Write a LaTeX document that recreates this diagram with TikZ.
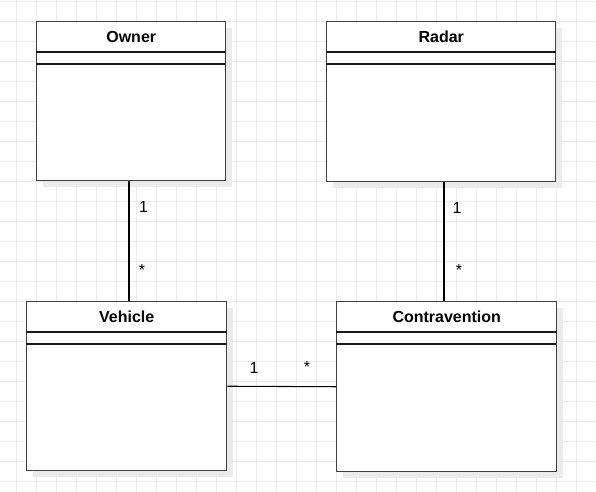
\documentclass[tikz,border=0pt]{standalone}
\usepackage{fontspec}
\setmainfont{Liberation Sans}
\usetikzlibrary{positioning,calc,shadows}

\tikzset{
    gridline/.style={draw=black!8, line width=0.6pt},
    umlclass/.style={draw=black!75, line width=1.1pt, fill=white, anchor=north west, inner sep=0pt,
        drop shadow={shadow xshift=4.5pt, shadow yshift=-4.5pt, fill=black!8, opacity=1}},
    umlline/.style={draw=black!90, line width=0.9pt},
    umltitle/.style={font=\bfseries\fontsize{12}{14}\selectfont, inner sep=0pt},
    assoc/.style={draw=black, line width=0.8pt},
    mult/.style={font=\fontsize{12}{14}\selectfont, inner sep=0pt}
}

\begin{document}
\begin{tikzpicture}[x=0.75pt,y=-0.75pt]
    % Canvas with the light grid
    \useasboundingbox (0,0) rectangle (596,492);
    \fill[white] (0,0) rectangle (596,492);
    \foreach \gx in {16.7,36.7,...,596} \draw[gridline] (\gx,0) -- (\gx,492);
    \foreach \gy in {1.7,21.7,...,492} \draw[gridline] (0,\gy) -- (596,\gy);

    % Owner class
    \node[umlclass, minimum width=189*0.75pt, minimum height=159*0.75pt] (owner) at (36,21) {};
    \node[umltitle] (ownertitle) at ($(owner.north)+(0,15.5)$) {Owner};
    \draw[umlline] ($(owner.north west)+(0,31)$) -- ($(owner.north east)+(0,31)$);
    \draw[umlline] ($(owner.north west)+(0,43)$) -- ($(owner.north east)+(0,43)$);

    % Radar class
    \node[umlclass, minimum width=229*0.75pt, minimum height=160*0.75pt] (radar) at (326,21) {};
    \node[umltitle] (radartitle) at ($(radar.north)+(0,15.5)$) {Radar};
    \draw[umlline] ($(radar.north west)+(0,31)$) -- ($(radar.north east)+(0,31)$);
    \draw[umlline] ($(radar.north west)+(0,43)$) -- ($(radar.north east)+(0,43)$);

    % Vehicle class
    \node[umlclass, minimum width=200*0.75pt, minimum height=169*0.75pt] (vehicle) at (26,301) {};
    \node[umltitle] (vehicletitle) at ($(vehicle.north)+(0,15.5)$) {Vehicle};
    \draw[umlline] ($(vehicle.north west)+(0,31)$) -- ($(vehicle.north east)+(0,31)$);
    \draw[umlline] ($(vehicle.north west)+(0,43)$) -- ($(vehicle.north east)+(0,43)$);

    % Contravention class
    \node[umlclass, minimum width=220*0.75pt, minimum height=170*0.75pt] (contra) at (336,301) {};
    \node[umltitle] (contratitle) at ($(contra.north)+(0,15.5)$) {Contravention};
    \draw[umlline] ($(contra.north west)+(0,31)$) -- ($(contra.north east)+(0,31)$);
    \draw[umlline] ($(contra.north west)+(0,43)$) -- ($(contra.north east)+(0,43)$);

    % Owner -- Vehicle
    \coordinate (ovx) at ($(owner.south)!0.5!(vehicle.north)$);
    \draw[assoc] (owner.south -| ovx) -- (vehicle.north -| ovx);
    \node[mult] (ovone) at (143.5,206.5) {1};
    \node[mult] (ovmany) at (142,269.5) {*};

    % Radar -- Contravention
    \coordinate (rcx) at ($(radar.south)!0.5!(contra.north)$);
    \draw[assoc] (radar.south -| rcx) -- (contra.north -| rcx);
    \node[mult] (rcone) at (457,207.5) {1};
    \node[mult] (rcmany) at (459,270) {*};

    % Vehicle -- Contravention
    \draw[assoc] (vehicle.east) -- (contra.west);
    \node[mult] (vcone) at (254,368) {1};
    \node[mult] (vcmany) at (307,367) {*};
\end{tikzpicture}
\end{document}
